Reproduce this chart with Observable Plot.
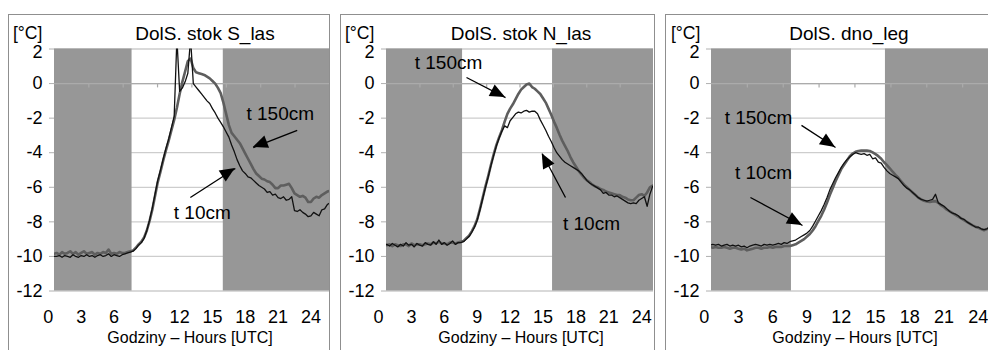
<!DOCTYPE html>
<html><head><meta charset="utf-8">
<script src="https://cdn.jsdelivr.net/npm/d3@7"></script>
<script src="https://cdn.jsdelivr.net/npm/@observablehq/plot@0.6"></script>
<style>
html,body{margin:0;padding:0;background:#fff;overflow:hidden;width:988px;height:350px;}
body{position:relative;font-family:"Liberation Sans",Arial,sans-serif;}
.panel{position:absolute;top:14px;height:345px;border:1px solid #8f8f8f;box-sizing:border-box;background:#fff;}
.panel svg{position:absolute;left:0;top:0;max-width:none;overflow:visible;}
.lbl{position:absolute;white-space:nowrap;color:#000;line-height:1;font-family:"Liberation Sans",Arial,sans-serif;}
.unit{line-height:0.8;}
[aria-label="y-axis tick"], [aria-label="y-axis"] line, [aria-label="y-axis"] path{stroke:#b0b0b0;}
</style></head><body>
<script>
// sample times [h UTC]
const hours = [0.5,0.75,
 1,1.25,1.5,1.75, 2,2.25,2.5,2.75, 3,3.25,3.5,3.75, 4,4.25,4.5,4.75, 5,5.25,5.5,5.75,
 6,6.25,6.5,6.75, 7,7.25,7.5,7.75, 8,8.25,8.5,8.75, 9,9.25,9.5,9.75, 10,10.25,10.5,10.75,
 11,11.25,11.5,11.75, 12,12.25,12.5,12.75, 13,13.25,13.5,13.75, 14,14.25,14.5,14.75,
 15,15.25,15.5,15.75, 16,16.25,16.5,16.75, 17,17.25,17.5,17.75, 18,18.25,18.5,18.75,
 19,19.25,19.5,19.75, 20,20.25,20.5,20.75, 21,21.25,21.5,21.75, 22,22.25,22.5,22.75,
 23,23.25,23.5,23.75, 24,24.25,24.5,24.75, 25,25.25,25.5,25.75];

// DolS. stok S_las
const stokS_t10 = [-10.0,-10.0,
 -9.95,-10.05,-9.95,-10.0, -10.05,-9.9,-10.0,-10.05, -9.95,-10.0,-9.9,-10.0, -9.95,-10.05,-9.95,-9.9,
 -10.0,-9.95,-9.85,-10.0, -9.9,-9.95,-10.0,-9.9, -9.85,-9.8,-9.75,-9.7, -9.55,-9.35,-9.2,-8.95,
 -8.5,-7.9,-7.2,-6.4, -5.6,-5.0,-4.35,-3.75, -3.2,-2.55,-1.9,2.6, -0.45,-0.25,0.1,0.6,
 2.6,0.0,-0.2,-0.4, -0.6,-0.8,-1.0,-1.15, -1.45,-1.7,-2.0,-2.25, -2.5,-2.8,-3.1,-3.55,
 -3.95,-4.4,-4.75,-5.05, -5.2,-5.4,-5.45,-5.6, -5.75,-5.9,-6.0,-6.1, -6.3,-6.25,-6.45,-6.4,
 -6.6,-6.65,-6.55,-6.75, -6.7,-6.55,-7.35,-7.4, -7.3,-7.45,-7.55,-7.7, -7.65,-7.45,-7.55,-7.65,
 -7.3,-7.25,-7.0,-6.9];
const stokS_t150 = [-9.85,-9.8,
 -9.9,-9.75,-9.85,-9.8, -9.7,-9.85,-9.75,-9.9, -9.8,-9.7,-9.85,-9.8, -9.75,-9.9,-9.8,-9.85,
 -9.75,-9.8,-9.6,-9.85, -9.8,-9.85,-9.75,-9.8, -9.8,-9.75,-9.7,-9.65, -9.5,-9.3,-9.15,-8.9,
 -8.5,-7.95,-7.3,-6.5, -5.7,-5.1,-4.45,-3.85, -3.3,-2.7,-2.1,-1.4, -0.6,0.1,0.7,1.3,
 1.45,0.9,0.65,0.6, 0.55,0.5,0.4,0.3, 0.15,0.0,-0.25,-0.55, -1.1,-1.75,-2.4,-2.85,
 -3.05,-3.25,-3.45,-3.75, -4.05,-4.35,-4.65,-4.95, -5.2,-5.35,-5.5,-5.55, -5.65,-5.7,-5.85,-6.05,
 -6.05,-5.9,-5.9,-5.85, -5.8,-6.05,-6.35,-6.45, -6.55,-6.5,-6.6,-6.85, -6.85,-6.65,-6.55,-6.6,
 -6.45,-6.35,-6.25,-6.2];

// DolS. stok N_las
const stokN_t10 = [-9.35,-9.3,
 -9.4,-9.25,-9.35,-9.45, -9.3,-9.4,-9.2,-9.35, -9.3,-9.45,-9.25,-9.35, -9.4,-9.2,-9.3,-9.35,
 -9.15,-9.3,-9.05,-9.3, -9.2,-9.35,-9.25,-9.1, -9.3,-9.2,-9.2,-9.15, -9.0,-8.85,-8.6,-8.3,
 -7.9,-7.3,-6.65,-6.0, -5.4,-4.75,-4.15,-3.6, -3.15,-2.75,-2.45,-2.55, -2.15,-1.95,-1.75,-1.65,
 -1.7,-1.6,-1.55,-1.65, -1.6,-1.6,-1.75,-2.1, -2.4,-2.7,-3.05,-3.35, -3.7,-4.0,-4.2,-4.4,
 -4.55,-4.65,-4.75,-4.85, -4.95,-5.05,-5.2,-5.4, -5.6,-5.75,-5.85,-5.95, -6.05,-6.15,-6.35,-6.3,
 -6.45,-6.45,-6.55,-6.5, -6.6,-6.7,-6.8,-6.9, -6.95,-6.9,-6.95,-6.75, -6.65,-6.55,-7.1,-6.4,
 -5.95,-5.9,-5.9,-5.9];
const stokN_t150 = [-9.3,-9.35,
 -9.3,-9.4,-9.3,-9.35, -9.4,-9.3,-9.3,-9.4, -9.25,-9.35,-9.3,-9.3, -9.35,-9.3,-9.25,-9.3,
 -9.2,-9.25,-9.15,-9.25, -9.25,-9.3,-9.2,-9.2, -9.25,-9.2,-9.15,-9.1, -8.95,-8.8,-8.55,-8.25,
 -7.85,-7.25,-6.6,-5.95, -5.35,-4.7,-4.1,-3.55, -3.1,-2.7,-2.2,-1.75, -1.45,-1.2,-0.9,-0.6,
 -0.35,-0.2,-0.05,0.0, -0.2,-0.3,-0.45,-0.6, -0.85,-1.1,-1.45,-1.8, -2.2,-2.55,-2.95,-3.3,
 -3.6,-3.9,-4.25,-4.55, -4.8,-5.05,-5.25,-5.45, -5.6,-5.7,-5.85,-5.95, -6.0,-6.1,-6.15,-6.25,
 -6.3,-6.35,-6.4,-6.45, -6.45,-6.55,-6.6,-6.7, -6.75,-6.75,-6.6,-6.45, -6.4,-6.5,-6.3,-6.0,
 -5.9,-5.9,-5.9,-5.9];

// DolS. dno_leg
const dno_t10 = [-9.35,-9.3,
 -9.35,-9.3,-9.4,-9.35, -9.3,-9.4,-9.35,-9.4, -9.35,-9.45,-9.4,-9.5, -9.4,-9.35,-9.3,-9.35,
 -9.4,-9.3,-9.35,-9.3, -9.35,-9.3,-9.25,-9.3, -9.2,-9.25,-9.15,-9.1, -9.05,-8.95,-8.85,-8.75,
 -8.65,-8.5,-8.25,-7.95, -7.65,-7.35,-7.0,-6.6, -6.15,-5.8,-5.45,-5.15, -4.85,-4.6,-4.4,-4.25,
 -4.1,-4.0,-4.05,-4.1, -4.05,-4.15,-4.1,-4.35, -4.3,-4.55,-4.6,-4.85, -5.05,-5.2,-5.3,-5.4,
 -5.5,-5.7,-5.9,-6.05, -6.15,-6.3,-6.45,-6.6, -6.7,-6.75,-6.8,-6.75, -6.7,-6.4,-6.9,-7.0,
 -7.1,-7.25,-7.4,-7.5, -7.55,-7.65,-7.8,-7.85, -8.0,-8.1,-8.2,-8.3, -8.3,-8.4,-8.45,-8.4,
 -8.3,-8.3,-8.35,-8.3];
const dno_t150 = [-9.45,-9.5,
 -9.45,-9.5,-9.5,-9.45, -9.5,-9.55,-9.5,-9.5, -9.55,-9.6,-9.55,-9.65, -9.6,-9.55,-9.5,-9.5,
 -9.55,-9.5,-9.5,-9.45, -9.5,-9.45,-9.45,-9.45, -9.4,-9.4,-9.4,-9.35, -9.3,-9.2,-9.1,-9.0,
 -8.85,-8.7,-8.5,-8.25, -7.95,-7.65,-7.3,-6.9, -6.45,-6.05,-5.65,-5.3, -4.95,-4.7,-4.45,-4.2,
 -4.05,-3.95,-3.9,-3.88, -3.87,-3.88,-3.9,-3.98, -4.08,-4.2,-4.35,-4.55, -4.72,-4.9,-5.1,-5.28,
 -5.45,-5.65,-5.85,-6.0, -6.15,-6.3,-6.45,-6.6, -6.7,-6.78,-6.82,-6.85, -6.82,-6.8,-6.9,-7.05,
 -7.15,-7.3,-7.4,-7.5, -7.6,-7.7,-7.8,-7.9, -8.0,-8.1,-8.2,-8.28, -8.35,-8.42,-8.48,-8.42,
 -8.35,-8.35,-8.38,-8.35];

const panelTitles = ["DolS. stok S_las", "DolS. stok N_las", "DolS. dno_leg"];
const unitLabel = "[°C]";
const xAxisTitle = "Godziny – Hours [UTC]";
const yTicks = [-12, -10, -8, -6, -4, -2, 0, 2];
const yTopTick = [2];
const xTickLabels = [0, 3, 6, 9, 12, 15, 18, 21, 24];
const xDomains = [[0.56, 25.7], [0.72, 25.08], [0.64, 25.77]];
const nightEnd = [7.65, 7.66, 7.64];
const duskStart = [15.99, 15.87, 15.87];
const zeroLineTicks = [
  [3.70, 6.84, 9.98, 13.12, 16.27, 19.41, 22.55],
  [3.77, 6.81, 9.86, 12.90, 15.95, 18.99, 22.04],
  [3.78, 6.92, 10.06, 13.20, 16.35, 19.49, 22.63]
];
const annotations = [
  [{text: "t 150cm", h: 21.2, v: -1.73}, {text: "t 10cm", h: 14.07, v: -7.46}],
  [{text: "t 150cm", h: 6.38, v: 1.22}, {text: "t 10cm", h: 19.42, v: -8.09}],
  [{text: "t 150cm", h: 4.75, v: -1.96}, {text: "t 10cm", h: 5.19, v: -5.14}]
];
const arrows = [
  [{x1: 22.75, y1: -2.71, x2: 18.73, y2: -3.70}, {x1: 12.98, y1: -6.59, x2: 17.09, y2: -4.91}],
  [{x1: 8.02, y1: 0.35, x2: 11.58, y2: -0.81}, {x1: 17.05, y1: -6.59, x2: 14.93, y2: -4.06}],
  [{x1: 8.52, y1: -2.42, x2: 11.50, y2: -3.70}, {x1: 4.05, y1: -6.59, x2: 8.61, y2: -8.21}]
];
const series = [[stokS_t10, stokS_t150], [stokN_t10, stokN_t150], [dno_t10, dno_t150]];

// layout (pixels)
const layout = [
  {boxLeft: 8, boxWidth: 322, mL: 45, mR: 0, titleX: 205, unitLeft: 13, xlabelX: 190},
  {boxLeft: 340, boxWidth: 315, mL: 45, mR: 1, titleX: 521, unitLeft: 345, xlabelX: 521},
  {boxLeft: 665, boxWidth: 340, mL: 45, mR: 6, titleX: 849, unitLeft: 671, xlabelX: 855}
];

function addLabel(text, left, top, size, center, cls) {
  const s = document.createElement("div");
  s.className = "lbl" + (cls ? " " + cls : "");
  s.textContent = text;
  s.style.left = left + "px";
  s.style.top = top + "px";
  s.style.fontSize = size + "px";
  if (center) s.style.transform = "translateX(-50%)";
  document.body.appendChild(s);
}

layout.forEach((L, i) => {
  const box = document.createElement("div");
  box.className = "panel";
  box.style.left = L.boxLeft + "px";
  box.style.width = L.boxWidth + "px";
  document.body.appendChild(box);

  const t10 = hours.map((h, k) => ({h, v: series[i][0][k]}));
  const t150 = hours.map((h, k) => ({h, v: series[i][1][k]}));
  const dom = xDomains[i];
  const shade = [{x1: dom[0], x2: nightEnd[i]}, {x1: duskStart[i], x2: dom[1]}];

  const plot = Plot.plot({
    width: L.boxWidth - 2, height: 330,
    marginTop: 33.5, marginBottom: 54.5, marginLeft: L.mL, marginRight: L.mR,
    style: {fontSize: "18px", fontFamily: "Liberation Sans, Arial, sans-serif", background: "transparent", color: "#000", overflow: "visible"},
    x: {domain: dom, axis: null},
    y: {domain: [-12, 2], ticks: yTicks, tickSize: 5, tickPadding: 7,
        tickFormat: d => (yTopTick.includes(d) ? "" : String(d)), label: null},
    marks: [
      Plot.ruleY(yTicks, {stroke: "#cdcdcd", strokeWidth: 1.3}),
      Plot.rect(shade, {x1: "x1", x2: "x2", y1: -12, y2: 2, fill: "#979797"}),
      Plot.ruleY([0], {stroke: "#ababab", strokeWidth: 1.2}),
      Plot.ruleX(zeroLineTicks[i], {x: d => d, y1: 0, y2: -0.25, stroke: "#ababab", strokeWidth: 1.2}),
      Plot.line(t150, {x: "h", y: "v", stroke: "#5e5e5e", strokeWidth: 2.6, clip: true}),
      Plot.line(t10, {x: "h", y: "v", stroke: "#111", strokeWidth: 1.3, clip: true}),
      Plot.link(arrows[i], {x1: "x1", y1: "y1", x2: "x2", y2: "y2", stroke: "#000", strokeWidth: 1.3}),
      Plot.text(annotations[i], {x: "h", y: "v", text: "text", fontSize: 19, fill: "#000"}),
      Plot.text(yTopTick, {y: d => d, text: d => String(d), frameAnchor: "left", textAnchor: "end", dx: -12, dy: 3, fontSize: 18, fill: "#000"}),
      Plot.text(xTickLabels, {x: d => d, text: d => String(d), frameAnchor: "bottom", dy: 32, fontSize: 18, fill: "#000"})
    ]
  });
  box.appendChild(plot);

  // filled arrowheads, placed through the plot's own scales
  const sx = plot.scale("x"), sy = plot.scale("y");
  const svg = d3.select(plot);
  for (const a of arrows[i]) {
    const x1 = sx.apply(a.x1), y1 = sy.apply(a.y1), x2 = sx.apply(a.x2), y2 = sy.apply(a.y2);
    const ang = Math.atan2(y2 - y1, x2 - x1);
    const len = 15, half = 6.5;
    const bx = x2 - len * Math.cos(ang), by = y2 - len * Math.sin(ang);
    const pts = [[x2, y2],
      [bx - half * Math.sin(ang), by + half * Math.cos(ang)],
      [bx + half * Math.sin(ang), by - half * Math.cos(ang)]];
    svg.append("polygon").attr("points", pts.map(p => p.join(",")).join(" ")).attr("fill", "#000");
  }

  addLabel(panelTitles[i], L.titleX, 24.2, 19, true);
  addLabel(unitLabel, L.unitLeft, 25.6, 17.5, false, "unit");
  addLabel(xAxisTitle, L.xlabelX, 329.8, 16, true);
});
</script>
</body></html>
